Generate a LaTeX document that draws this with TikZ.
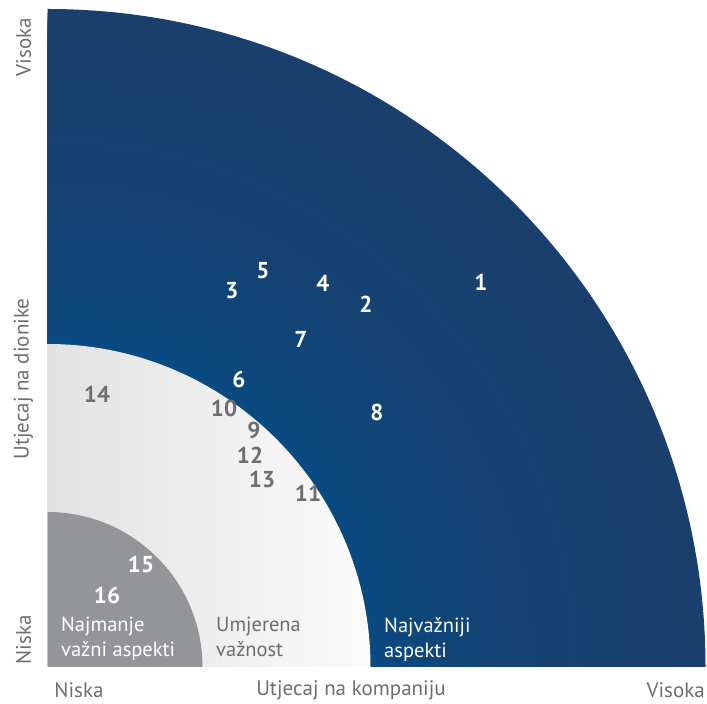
\documentclass[tikz,border=0pt]{standalone}
\usepackage{fontspec}
\setmainfont{PT Sans}
\definecolor{blin}{RGB}{6,76,133}
\definecolor{blout}{RGB}{27,63,108}
\definecolor{gleft}{RGB}{226,226,226}
\definecolor{gright}{RGB}{251,251,251}
\definecolor{ginner}{RGB}{147,149,152}
\definecolor{txtgrey}{RGB}{109,110,113}
\tikzset{
  num/.style={font=\fontsize{23}{23}\selectfont\bfseries, inner sep=0pt, anchor=center},
  wnum/.style={num, text=white},
  gnum/.style={num, text=txtgrey},
  zone/.style={font=\fontsize{20.5}{25}\selectfont, align=left, anchor=north west, inner sep=0pt},
  axis/.style={font=\fontsize{21}{21}\selectfont, text=txtgrey, inner sep=0pt}
}
\begin{document}
\begin{tikzpicture}[x=1pt,y=1pt]
\useasboundingbox (0,0) rectangle (707,704);
\coordinate (O) at (47.5,37);
\begin{scope}
  \clip (O) rectangle ++(658,658);
  \foreach \i in {0,...,84}{
    \pgfmathsetmacro{\rr}{658-4*\i}
    \pgfmathsetmacro{\pp}{100*(max(\rr-323,0.01)/335)^0.45}
    \colorlet{ringcol}{blout!\pp!blin}
    \fill[ringcol] (O) circle (\rr);
  }
\end{scope}
\shade[left color=gleft, right color=gright] (O) -- ++(323,0) arc (0:90:323) -- cycle;
\fill[ginner] (O) -- ++(155,0) arc (0:90:155) -- cycle;
% numbers
\node[wnum] (n1) at (481,422) {1};
\node[wnum] (n2) at (366,400) {2};
\node[wnum] (n3) at (232,413) {3};
\node[wnum] (n4) at (323,421) {4};
\node[wnum] (n5) at (263,433) {5};
\node[wnum] (n6) at (239,325) {6};
\node[wnum] (n7) at (301,365) {7};
\node[wnum] (n8) at (377,292) {8};
\node[gnum] (n9) at (254,274) {9};
\node[gnum] (n10) at (224,296) {10};
\node[gnum] (n11) at (308,211) {11};
\node[gnum] (n12) at (250,249) {12};
\node[gnum] (n13) at (262,225) {13};
\node[gnum] (n14) at (97,310) {14};
\node[wnum] (n15) at (141,140) {15};
\node[wnum] (n16) at (107,109) {16};
% zone labels
\node[zone, text=white] (z1) at (61,87) {Najmanje\\važni aspekti};
\node[zone, text=txtgrey] (z2) at (216,87) {Umjerena\\važnost};
\node[zone, text=white] (z3) at (384,87) {Najvažniji\\aspekti};
% axes
\node[axis] (xl) at (79,14) {Niska};
\node[axis] (xm) at (351,14) {Utjecaj na kompaniju};
\node[axis, anchor=east] (xr) at (705,14) {Visoka};
\node[axis, rotate=90] (yt) at (23.5,657) {Visoka};
\node[axis, rotate=90] (ym) at (23.5,325) {Utjecaj na dionike};
\node[axis, rotate=90] (yb) at (23.5,64) {Niska};
\end{tikzpicture}
\end{document}
